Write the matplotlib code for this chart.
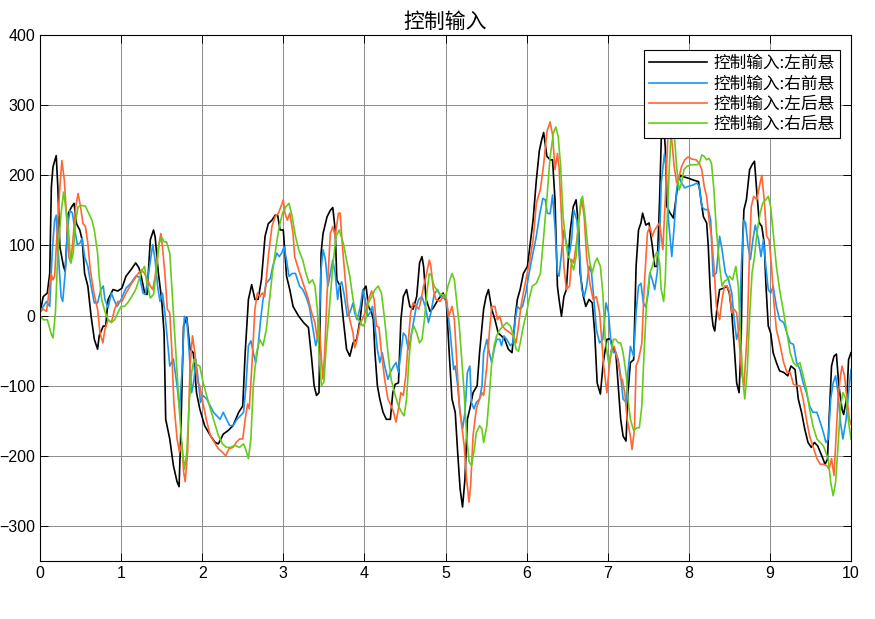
import numpy as np
import matplotlib
matplotlib.use('Agg')
import matplotlib.pyplot as plt

plt.rcParams['font.family'] = ['Liberation Sans', 'Noto Sans CJK SC', 'DejaVu Sans']

# (time [s], control input)
black_pts = [
    (0, 4), (0.04, 27), (0.09, 32), (0.12, 60), (0.14, 183), (0.16, 212), (0.2, 228), (0.22, 183),
    (0.245, 98), (0.29, 70), (0.31, 63), (0.35, 146), (0.39, 155), (0.42, 160), (0.45, 131), (0.49, 122),
    (0.52, 108), (0.55, 60), (0.59, 42), (0.63, -1), (0.67, -34), (0.71, -48), (0.73, -29), (0.78, -15),
    (0.81, -15), (0.84, 23), (0.9, 37), (0.96, 35), (1.01, 39), (1.06, 56), (1.12, 65), (1.18, 75),
    (1.22, 68), (1.25, 55), (1.29, 32), (1.32, 30), (1.36, 108), (1.40, 122), (1.42, 112), (1.46, 60),
    (1.50, 23), (1.53, -25), (1.55, -148), (1.60, -176), (1.645, -214), (1.69, -237), (1.715, -244),
    (1.735, -171), (1.77, -15), (1.81, -3), (1.85, -48), (1.89, -53), (1.93, -110), (1.97, -133),
    (2.03, -157), (2.10, -171), (2.16, -181), (2.20, -183), (2.26, -169), (2.32, -164), (2.38, -157),
    (2.45, -138), (2.50, -129), (2.53, -53), (2.55, -15), (2.57, 23), (2.61, 44), (2.65, 23), (2.69, 23),
    (2.73, 51), (2.775, 113), (2.815, 131), (2.86, 136), (2.90, 143), (2.93, 143), (2.96, 122), (3.0, 122),
    (3.04, 56), (3.08, 37), (3.12, 13), (3.19, -1), (3.25, -10), (3.31, -17), (3.35, -62), (3.38, -100),
    (3.41, -114), (3.44, -110), (3.466, 89), (3.49, 117), (3.54, 141), (3.58, 150), (3.61, 154),
    (3.64, 122), (3.66, 51), (3.70, 42), (3.74, -6), (3.78, -48), (3.82, -58), (3.86, -39), (3.905, -34),
    (3.946, -6), (3.99, 37), (4.02, 42), (4.05, 13), (4.09, 4), (4.11, -6), (4.13, -53), (4.16, -100),
    (4.19, -119), (4.23, -138), (4.27, -148), (4.32, -148), (4.35, -110), (4.38, -98), (4.42, -96),
    (4.45, -6), (4.48, 27), (4.52, 37), (4.56, 13), (4.60, 9), (4.645, 27), (4.68, 75), (4.71, 84),
    (4.73, 70), (4.76, 23), (4.81, 6), (4.85, 11), (4.91, 23), (4.97, 32), (5.01, 20), (5.05, -62),
    (5.08, -119), (5.12, -138), (5.15, -195), (5.18, -247), (5.21, -273), (5.24, -233), (5.27, -148),
    (5.30, -133), (5.34, -110), (5.39, -100), (5.42, -53), (5.47, 9), (5.50, 27), (5.53, 37), (5.57, 9),
    (5.61, -6), (5.65, -25), (5.69, -29), (5.73, -34), (5.775, -48), (5.82, -53), (5.84, -29), (5.86, -1),
    (5.886, 23), (5.92, 37), (5.96, 60), (6.01, 70), (6.04, 98), (6.08, 136), (6.12, 193), (6.157, 235),
    (6.185, 250), (6.21, 261), (6.25, 227), (6.29, 222), (6.32, 222), (6.35, 165), (6.38, 42), (6.40, 23),
    (6.43, -1), (6.46, 27), (6.49, 37), (6.535, 118), (6.575, 155), (6.61, 165), (6.64, 127), (6.66, 61),
    (6.70, 27), (6.73, 13), (6.77, 23), (6.81, 18), (6.84, -25), (6.87, -96), (6.91, -112), (6.945, -67),
    (6.99, -34), (7.03, -33), (7.06, -44), (7.10, -53), (7.13, -100), (7.16, -148), (7.19, -172),
    (7.226, -179), (7.25, -110), (7.28, -67), (7.32, -63), (7.35, 70), (7.38, 122), (7.41, 132),
    (7.43, 146), (7.47, 129), (7.51, 132), (7.55, 99), (7.58, 70), (7.61, 70), (7.64, 165), (7.66, 250),
    (7.68, 285), (7.71, 240), (7.73, 155), (7.77, 146), (7.81, 139), (7.84, 165), (7.87, 193), (7.90, 200),
    (7.93, 198), (7.99, 196), (8.06, 193), (8.12, 191), (8.15, 165), (8.18, 141), (8.22, 132), (8.24, 99),
    (8.26, 46), (8.28, 4), (8.30, -15), (8.32, -22), (8.35, 13), (8.38, 37), (8.43, 39), (8.47, 42),
    (8.50, 32), (8.53, 4), (8.56, -44), (8.59, -96), (8.62, -110), (8.645, -40), (8.665, 110), (8.68, 151),
    (8.71, 165), (8.75, 208), (8.78, 215), (8.81, 220), (8.84, 174), (8.87, 132), (8.90, 127), (8.93, 103),
    (8.95, 46), (8.98, -15), (9.01, -25), (9.04, -53), (9.08, -67), (9.12, -79), (9.17, -81), (9.22, -86),
    (9.26, -72), (9.31, -77), (9.35, -119), (9.39, -138), (9.43, -162), (9.47, -181), (9.51, -188),
    (9.55, -181), (9.59, -186), (9.64, -200), (9.68, -212), (9.71, -205), (9.73, -148), (9.76, -72),
    (9.79, -58), (9.82, -55), (9.85, -100), (9.89, -134), (9.91, -141), (9.95, -115), (9.97, -63), (10.0, -53),
]

blue_pts = [
    (0, 4), (0.04, 13), (0.08, 20), (0.12, 13), (0.15, 89), (0.18, 136), (0.20, 143), (0.22, 98),
    (0.26, 27), (0.28, 20), (0.31, 60), (0.34, 127), (0.37, 150), (0.40, 146), (0.43, 122), (0.46, 101),
    (0.49, 103), (0.52, 110), (0.55, 84), (0.59, 70), (0.63, 42), (0.67, 18), (0.71, 18), (0.75, 37),
    (0.78, 42), (0.80, 23), (0.84, 11), (0.88, 32), (0.91, 23), (0.95, 13), (1.0, 23), (1.06, 39),
    (1.12, 46), (1.18, 56), (1.23, 55), (1.27, 32), (1.30, 30), (1.35, 70), (1.39, 101), (1.42, 79),
    (1.45, 42), (1.48, 20), (1.51, 32), (1.54, 4), (1.57, -34), (1.60, -72), (1.645, -62), (1.69, -100),
    (1.72, -133), (1.75, -81), (1.78, -1), (1.81, -6), (1.84, -53), (1.87, -110), (1.90, -91), (1.92, -62),
    (1.95, -91), (1.98, -124), (2.01, -114), (2.055, -119), (2.10, -129), (2.14, -138), (2.18, -143),
    (2.22, -148), (2.26, -138), (2.30, -148), (2.34, -157), (2.38, -157), (2.43, -148), (2.47, -143),
    (2.51, -138), (2.54, -100), (2.57, -43), (2.60, -36), (2.63, -53), (2.66, -67), (2.69, -43),
    (2.72, -6), (2.75, 23), (2.79, 46), (2.84, 53), (2.87, 70), (2.92, 89), (2.95, 84), (2.98, 89),
    (3.01, 98), (3.04, 79), (3.07, 56), (3.11, 60), (3.15, 60), (3.20, 42), (3.24, 37), (3.28, 27),
    (3.32, 13), (3.36, -15), (3.40, -43), (3.44, -25), (3.465, 65), (3.49, 94), (3.52, 79), (3.55, 42),
    (3.58, 60), (3.61, 79), (3.64, 60), (3.67, 23), (3.69, 42), (3.72, 48), (3.75, 30), (3.79, -1),
    (3.82, 4), (3.86, 18), (3.88, 4), (3.91, -6), (3.95, 13), (3.98, 37), (4.01, 23), (4.04, -1),
    (4.07, 4), (4.10, 13), (4.13, -15), (4.16, -48), (4.19, -67), (4.22, -53), (4.25, -72), (4.29, -91),
    (4.32, -81), (4.36, -72), (4.39, -67), (4.42, -81), (4.45, -53), (4.48, -25), (4.51, -29), (4.54, -48),
    (4.57, -34), (4.605, -10), (4.64, 13), (4.67, 23), (4.71, 27), (4.75, 13), (4.79, -10), (4.82, 4),
    (4.86, 30), (4.90, 37), (4.94, 28), (4.98, 25), (5.01, 20), (5.05, -15), (5.08, -53), (5.10, -77),
    (5.12, -72), (5.15, -100), (5.18, -138), (5.21, -162), (5.24, -138), (5.27, -81), (5.30, -72),
    (5.32, -124), (5.35, -133), (5.38, -124), (5.42, -119), (5.45, -100), (5.47, -53), (5.51, -34),
    (5.54, -53), (5.57, -67), (5.60, -48), (5.63, -34), (5.67, -34), (5.69, -43), (5.72, -29),
    (5.755, -34), (5.80, -43), (5.83, -39), (5.86, -6), (5.886, 13), (5.92, 9), (5.95, 13), (5.99, 32),
    (6.03, 60), (6.07, 84), (6.12, 113), (6.16, 143), (6.20, 167), (6.23, 165), (6.255, 146), (6.29, 145),
    (6.32, 172), (6.35, 127), (6.38, 61), (6.40, 56), (6.43, 89), (6.46, 122), (6.49, 103), (6.53, 89),
    (6.555, 108), (6.58, 151), (6.62, 136), (6.65, 94), (6.68, 37), (6.71, 27), (6.74, 42), (6.77, 70),
    (6.80, 61), (6.83, 23), (6.86, -20), (6.90, -39), (6.94, -34), (6.98, 18), (7.01, 4), (7.04, -39),
    (7.07, -53), (7.10, -53), (7.13, -63), (7.16, -86), (7.19, -119), (7.23, -124), (7.25, -81),
    (7.28, -44), (7.32, -58), (7.35, 4), (7.38, 42), (7.41, 46), (7.44, 18), (7.47, 12), (7.50, 32),
    (7.52, 61), (7.55, 51), (7.58, 37), (7.61, 61), (7.64, 108), (7.66, 189), (7.70, 231), (7.72, 212),
    (7.75, 136), (7.79, 84), (7.82, 127), (7.85, 179), (7.88, 198), (7.91, 189), (7.95, 182), (7.99, 184),
    (8.05, 186), (8.10, 189), (8.13, 184), (8.16, 155), (8.20, 151), (8.24, 151), (8.27, 136), (8.30, 56),
    (8.34, 61), (8.38, 113), (8.41, 94), (8.45, 61), (8.49, 51), (8.53, 32), (8.56, -6), (8.59, -34),
    (8.62, -20), (8.65, 75), (8.68, 136), (8.70, 132), (8.73, 99), (8.76, 80), (8.79, 108), (8.82, 129),
    (8.86, 108), (8.89, 84), (8.92, 108), (8.95, 70), (8.98, 37), (9.01, 32), (9.04, 42), (9.08, 13),
    (9.12, -6), (9.17, -10), (9.21, -25), (9.25, -39), (9.29, -41), (9.33, -67), (9.37, -77), (9.41, -96),
    (9.45, -110), (9.49, -129), (9.53, -138), (9.58, -138), (9.62, -152), (9.66, -167), (9.69, -181),
    (9.72, -176), (9.75, -119), (9.78, -96), (9.81, -86), (9.84, -110), (9.87, -152), (9.90, -176),
    (9.94, -148), (9.97, -110), (10.0, -77),
]

orange_pts = [
    (0, 6), (0.04, 9), (0.08, 6), (0.11, 32), (0.135, 60), (0.16, 51), (0.18, 56), (0.22, 136),
    (0.245, 183), (0.27, 221), (0.30, 193), (0.33, 136), (0.355, 84), (0.38, 75), (0.41, 113), (0.44, 155),
    (0.47, 174), (0.50, 155), (0.53, 131), (0.56, 127), (0.59, 103), (0.62, 65), (0.665, 32), (0.71, 9),
    (0.74, -25), (0.775, -39), (0.80, -20), (0.84, -6), (0.88, -10), (0.92, 9), (0.96, 20), (1.01, 20),
    (1.06, 32), (1.12, 44), (1.16, 51), (1.21, 60), (1.25, 65), (1.29, 60), (1.33, 50), (1.36, 42),
    (1.39, 37), (1.42, 56), (1.46, 98), (1.49, 117), (1.51, 98), (1.54, 60), (1.57, 9), (1.60, 4),
    (1.625, -48), (1.65, -124), (1.69, -176), (1.72, -195), (1.75, -181), (1.77, -222), (1.79, -237),
    (1.82, -195), (1.85, -72), (1.88, -29), (1.91, -53), (1.94, -95), (1.97, -100), (2.0, -119),
    (2.05, -148), (2.10, -171), (2.15, -181), (2.20, -190), (2.25, -195), (2.29, -200), (2.33, -190),
    (2.38, -188), (2.42, -181), (2.46, -176), (2.50, -176), (2.53, -148), (2.56, -126), (2.58, -133),
    (2.61, -77), (2.65, 9), (2.68, 32), (2.71, 27), (2.74, 32), (2.77, 27), (2.82, 89), (2.86, 127),
    (2.90, 141), (2.94, 146), (2.97, 155), (3.0, 165), (3.02, 146), (3.05, 136), (3.08, 146), (3.12, 117),
    (3.14, 84), (3.19, 65), (3.23, 51), (3.27, 37), (3.31, 23), (3.35, 4), (3.39, -10), (3.42, -34),
    (3.44, -6), (3.47, -62), (3.49, -91), (3.51, -53), (3.54, 32), (3.58, 117), (3.61, 127), (3.64, 113),
    (3.68, 146), (3.70, 146), (3.73, 98), (3.76, 56), (3.79, 18), (3.82, -6), (3.86, -25), (3.88, -46),
    (3.90, -39), (3.94, -15), (3.97, -6), (4.01, 4), (4.05, 23), (4.09, 35), (4.12, 23), (4.15, -15),
    (4.18, -17), (4.21, -53), (4.25, -91), (4.29, -119), (4.33, -129), (4.36, -138), (4.39, -152),
    (4.42, -133), (4.45, -110), (4.48, -114), (4.51, -86), (4.54, -39), (4.57, 4), (4.60, 18), (4.64, 13),
    (4.67, 9), (4.70, 23), (4.73, 42), (4.76, 56), (4.80, 79), (4.82, 70), (4.85, 37), (4.88, 23),
    (4.93, 20), (4.97, 27), (5.01, 25), (5.04, -1), (5.08, 13), (5.11, -6), (5.14, -67), (5.17, -129),
    (5.20, -157), (5.23, -185), (5.26, -233), (5.29, -266), (5.31, -242), (5.34, -171), (5.38, -133),
    (5.42, -119), (5.45, -110), (5.47, -114), (5.51, -72), (5.54, -25), (5.57, 13), (5.61, 13), (5.64, -6),
    (5.67, -1), (5.70, -15), (5.74, -20), (5.80, -25), (5.84, -29), (5.87, -39), (5.90, -15), (5.93, 13),
    (5.96, 32), (6.0, 56), (6.04, 79), (6.08, 108), (6.12, 160), (6.17, 180), (6.21, 215), (6.25, 262),
    (6.29, 276), (6.32, 258), (6.35, 208), (6.38, 231), (6.40, 212), (6.43, 141), (6.46, 70), (6.49, 37),
    (6.53, 42), (6.555, 80), (6.58, 75), (6.62, 108), (6.65, 141), (6.68, 165), (6.71, 141), (6.74, 84),
    (6.78, 46), (6.82, 23), (6.86, 27), (6.90, 4), (6.92, -25), (6.95, -72), (6.99, -110), (7.02, -72),
    (7.05, -48), (7.08, -44), (7.10, -53), (7.13, -67), (7.16, -91), (7.18, -91), (7.21, -110),
    (7.24, -148), (7.28, -172), (7.30, -191), (7.33, -162), (7.35, -72), (7.38, -63), (7.42, -40),
    (7.45, 40), (7.49, 118), (7.52, 127), (7.55, 113), (7.58, 122), (7.61, 127), (7.64, 132), (7.68, 94),
    (7.71, 165), (7.74, 250), (7.76, 275), (7.79, 250), (7.82, 212), (7.85, 189), (7.88, 198), (7.91, 212),
    (7.95, 222), (7.99, 226), (8.04, 223), (8.09, 222), (8.13, 217), (8.16, 208), (8.19, 184), (8.22, 170),
    (8.25, 136), (8.28, 113), (8.31, 70), (8.34, 13), (8.38, -6), (8.41, 23), (8.44, 42), (8.47, 42),
    (8.50, 35), (8.53, 4), (8.56, 9), (8.59, 4), (8.62, -34), (8.65, -81), (8.68, -100), (8.72, -25),
    (8.75, 94), (8.77, 155), (8.80, 170), (8.84, 165), (8.87, 184), (8.90, 200), (8.93, 165), (8.96, 113),
    (8.99, 108), (9.02, 70), (9.05, 18), (9.08, -20), (9.12, -39), (9.17, -67), (9.21, -81), (9.25, -81),
    (9.29, -98), (9.33, -100), (9.37, -100), (9.41, -119), (9.45, -148), (9.49, -172), (9.53, -186),
    (9.58, -204), (9.62, -212), (9.66, -212), (9.70, -214), (9.73, -219), (9.76, -204), (9.79, -228),
    (9.81, -186), (9.84, -119), (9.87, -86), (9.89, -72), (9.92, -86), (9.95, -119), (9.98, -148),
    (10.0, -155),
]

green_pts = [
    (0, 0), (0.04, -6), (0.09, -6), (0.135, -25), (0.16, -32), (0.19, 4), (0.22, 89), (0.26, 146),
    (0.29, 176), (0.31, 160), (0.35, 122), (0.38, 75), (0.41, 89), (0.44, 136), (0.47, 155), (0.51, 157),
    (0.56, 156), (0.60, 146), (0.64, 136), (0.67, 122), (0.71, 89), (0.73, 56), (0.76, 23), (0.80, 6),
    (0.84, -6), (0.88, -10), (0.92, -6), (0.96, 4), (1.0, 13), (1.04, 13), (1.08, 18), (1.13, 27),
    (1.18, 37), (1.22, 51), (1.26, 65), (1.29, 70), (1.31, 51), (1.36, 25), (1.40, 30), (1.44, 70),
    (1.47, 103), (1.50, 112), (1.53, 105), (1.56, 105), (1.60, 89), (1.62, 51), (1.65, -6), (1.69, -81),
    (1.72, -138), (1.75, -185), (1.78, -219), (1.81, -195), (1.84, -124), (1.87, -81), (1.90, -62),
    (1.93, -70), (1.97, -72), (2.01, -95), (2.055, -114), (2.10, -133), (2.15, -152), (2.20, -171),
    (2.25, -183), (2.30, -188), (2.35, -188), (2.40, -185), (2.46, -188), (2.51, -183), (2.54, -192),
    (2.57, -204), (2.60, -176), (2.63, -100), (2.67, -53), (2.71, -34), (2.75, -43), (2.79, -20),
    (2.83, 23), (2.87, 65), (2.91, 98), (2.95, 127), (2.99, 146), (3.03, 155), (3.07, 160), (3.11, 141),
    (3.15, 113), (3.19, 94), (3.24, 79), (3.28, 60), (3.32, 46), (3.36, 51), (3.39, 42), (3.42, 9),
    (3.44, -53), (3.47, -100), (3.50, -95), (3.53, -43), (3.57, 13), (3.61, 70), (3.65, 113), (3.69, 122),
    (3.74, 103), (3.78, 79), (3.82, 56), (3.86, 23), (3.90, -1), (3.95, -10), (3.98, -15), (4.01, -10),
    (4.05, 18), (4.09, 27), (4.13, 37), (4.17, 42), (4.21, 32), (4.25, -6), (4.29, -53), (4.33, -91),
    (4.38, -114), (4.42, -129), (4.46, -138), (4.49, -143), (4.52, -119), (4.55, -62), (4.58, -25),
    (4.61, -15), (4.645, -25), (4.68, -39), (4.71, -34), (4.74, -6), (4.77, 32), (4.80, 60), (4.83, 56),
    (4.86, 42), (4.89, 37), (4.93, 30), (4.97, 30), (5.0, 25), (5.03, 42), (5.08, 60), (5.11, 51),
    (5.14, 18), (5.17, -15), (5.20, -62), (5.23, -110), (5.26, -171), (5.29, -208), (5.32, -214),
    (5.35, -195), (5.38, -167), (5.42, -157), (5.45, -162), (5.47, -181), (5.51, -157), (5.54, -114),
    (5.57, -67), (5.60, -43), (5.63, -29), (5.67, -20), (5.71, -15), (5.755, -10), (5.80, -15),
    (5.84, -29), (5.87, -48), (5.90, -51), (5.93, -34), (5.96, -15), (6.0, 4), (6.03, 23), (6.07, 42),
    (6.12, 46), (6.17, 60), (6.21, 112), (6.25, 167), (6.29, 226), (6.33, 260), (6.36, 269), (6.39, 255),
    (6.42, 212), (6.45, 141), (6.48, 108), (6.51, 84), (6.54, 80), (6.58, 65), (6.61, 84), (6.64, 132),
    (6.67, 165), (6.69, 170), (6.72, 141), (6.75, 103), (6.78, 75), (6.81, 61), (6.84, 75), (6.87, 82),
    (6.91, 70), (6.94, 32), (6.97, -34), (7.01, -67), (7.04, -53), (7.07, -34), (7.10, -34), (7.13, -39),
    (7.16, -39), (7.19, -53), (7.23, -86), (7.25, -119), (7.28, -148), (7.32, -164), (7.36, -160),
    (7.39, -160), (7.42, -130), (7.45, -50), (7.48, 20), (7.52, 61), (7.55, 70), (7.58, 84), (7.61, 91),
    (7.64, 75), (7.66, 37), (7.69, 20), (7.71, 51), (7.73, 127), (7.76, 212), (7.79, 280), (7.82, 260),
    (7.85, 212), (7.88, 179), (7.91, 189), (7.94, 208), (7.97, 212), (8.02, 215), (8.06, 215), (8.10, 215),
    (8.13, 217), (8.16, 229), (8.19, 227), (8.22, 222), (8.25, 224), (8.28, 217), (8.31, 179), (8.34, 122),
    (8.38, 70), (8.41, 42), (8.44, 49), (8.47, 51), (8.50, 56), (8.54, 51), (8.58, 70), (8.61, 42),
    (8.64, -34), (8.67, -96), (8.69, -119), (8.72, -80), (8.75, -1), (8.78, 61), (8.81, 84), (8.84, 118),
    (8.88, 146), (8.91, 160), (8.95, 165), (8.98, 170), (9.01, 155), (9.04, 118), (9.08, 70), (9.12, 37),
    (9.17, 4), (9.21, -25), (9.25, -53), (9.29, -67), (9.33, -72), (9.37, -67), (9.41, -86), (9.45, -105),
    (9.49, -134), (9.53, -157), (9.58, -176), (9.62, -181), (9.66, -186), (9.69, -195), (9.72, -205),
    (9.75, -238), (9.78, -257), (9.81, -238), (9.84, -186), (9.87, -129), (9.90, -110), (9.94, -119),
    (9.97, -152), (10.0, -176),
]

labels = ['控制输入:左前悬', '控制输入:右前悬', '控制输入:左后悬', '控制输入:右后悬']
colors = ['#000000', '#1a96f0', '#ff6633', '#66cc1a']
series = [black_pts, blue_pts, orange_pts, green_pts]

fig = plt.figure(figsize=(8.75, 6.19), dpi=100)
ax = fig.add_axes([40 / 875, 1 - 561 / 619, 811 / 875, 526 / 619])

for pts, c, lab in zip(series, colors, labels):
    arr = np.array(pts, dtype=float)
    ax.plot(arr[:, 0], arr[:, 1], color=c, lw=1.2, label=lab)

ax.set_xlim(0, 10)
ax.set_ylim(-350, 400)
ax.set_xticks(np.arange(0, 11, 1))
ax.set_yticks(np.arange(-300, 401, 100))
ax.grid(True, color='#8a8a8a', lw=0.7)
ax.tick_params(direction='in', length=6, labelsize=11.5, top=True, right=True, width=0.7)
for s in ax.spines.values():
    s.set_linewidth(0.8)

ax.set_title('控制输入', fontsize=15, family=['Noto Sans CJK SC'], pad=5)

leg = ax.legend(loc='upper right', bbox_to_anchor=(840 / 875, 1 - 50 / 619),
                bbox_transform=fig.transFigure, borderaxespad=0,
                prop={'family': ['Noto Sans CJK SC'], 'size': 12},
                fancybox=False, framealpha=1, edgecolor='black',
                handlelength=3.5, labelspacing=0.2, borderpad=0.3, handletextpad=0.4)
leg.get_frame().set_linewidth(0.8)
leg.set_zorder(10)

fig.savefig('out.png', dpi=100)
